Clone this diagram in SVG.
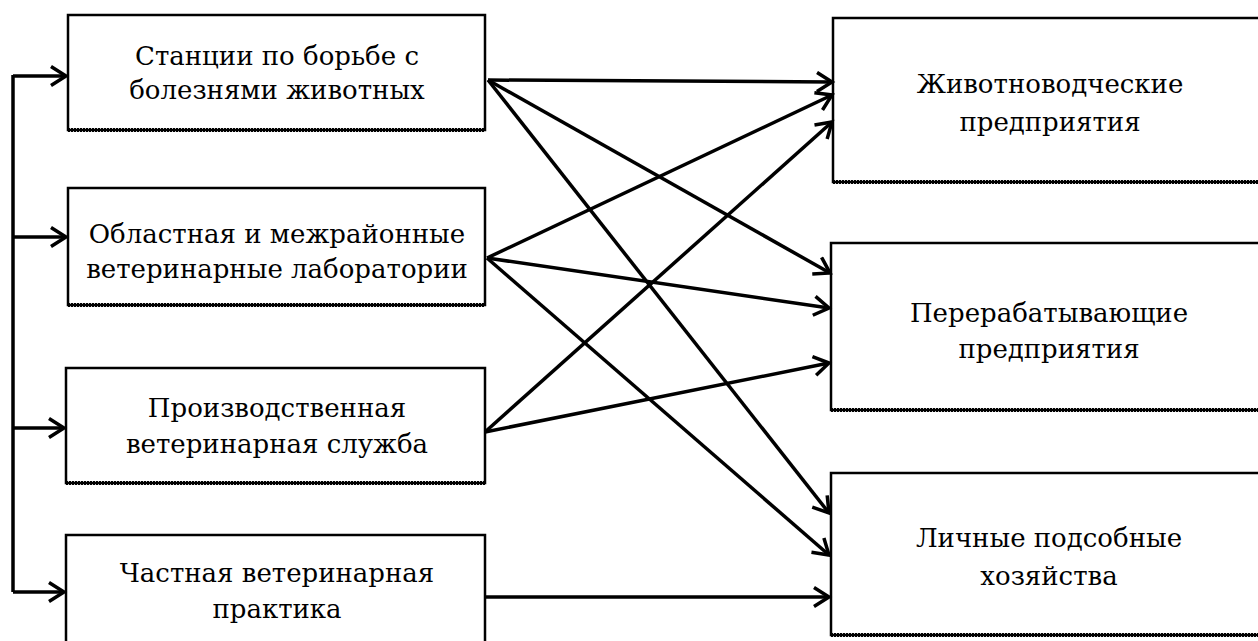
<svg xmlns="http://www.w3.org/2000/svg" width="1258" height="641" viewBox="0 0 1258 641">
<style>
.box{fill:#fff;stroke:#000;stroke-width:2.5}
.shadow{stroke:#000;stroke-width:4;stroke-dasharray:2 1}
.t{font-family:'DejaVu Serif',serif;font-size:26px;fill:#000;text-anchor:middle}
.c{fill:none;stroke:#000;stroke-width:3.5}
</style>
<defs>
<marker id="ah" markerUnits="userSpaceOnUse" markerWidth="26" markerHeight="26" refX="17" refY="11" orient="auto" viewBox="0 0 26 26">
<path d="M2,1.5 L17,11 L2,20.5" fill="none" stroke="#000" stroke-width="3.5"/>
</marker>
</defs>
<rect width="1258" height="641" fill="#fff"/>
<g id="n1"><rect class="box" x="68" y="15" width="417" height="115"/><line class="shadow" x1="68" y1="130" x2="485" y2="130"/>
<text class="t" x="277" y="65">Станции по борьбе с</text><text class="t" x="277" y="99">болезнями животных</text></g>
<g id="n2"><rect class="box" x="68" y="188" width="417" height="117"/><line class="shadow" x1="68" y1="305" x2="485" y2="305"/>
<text class="t" x="277" y="243">Областная и межрайонные</text><text class="t" x="277" y="278">ветеринарные лаборатории</text></g>
<g id="n3"><rect class="box" x="66" y="368" width="419" height="115"/><line class="shadow" x1="66" y1="483" x2="485" y2="483"/>
<text class="t" x="277" y="417">Производственная</text><text class="t" x="277" y="453">ветеринарная служба</text></g>
<g id="n4"><rect class="box" x="66" y="535" width="419" height="115"/>
<text class="t" x="277" y="582">Частная ветеринарная</text><text class="t" x="277" y="618">практика</text></g>
<g id="r1"><rect class="box" x="833" y="18" width="440" height="164"/><line class="shadow" x1="833" y1="182" x2="1258" y2="182"/>
<text class="t" x="1050" y="93">Животноводческие</text><text class="t" x="1050" y="131">предприятия</text></g>
<g id="r2"><rect class="box" x="831" y="243" width="440" height="167"/><line class="shadow" x1="831" y1="410" x2="1258" y2="410"/>
<text class="t" x="1049" y="322">Перерабатывающие</text><text class="t" x="1049" y="358">предприятия</text></g>
<g id="r3"><rect class="box" x="831" y="473" width="440" height="162"/><line class="shadow" x1="831" y1="635" x2="1258" y2="635"/>
<text class="t" x="1049" y="547">Личные подсобные</text><text class="t" x="1049" y="585">хозяйства</text></g>
<g id="connectors">
<path class="c" d="M13,75 V592"/>
<path class="c" d="M13,76 H66" marker-end="url(#ah)"/>
<path class="c" d="M13,237 H66" marker-end="url(#ah)"/>
<path class="c" d="M13,428 H64" marker-end="url(#ah)"/>
<path class="c" d="M13,592 H64" marker-end="url(#ah)"/>
<path class="c" d="M488,80 L832,82" marker-end="url(#ah)"/>
<path class="c" d="M488,80 L830,273" marker-end="url(#ah)"/>
<path class="c" d="M488,80 L829,513" marker-end="url(#ah)"/>
<path class="c" d="M487,258 L832,95" marker-end="url(#ah)"/>
<path class="c" d="M487,258 L829,308" marker-end="url(#ah)"/>
<path class="c" d="M487,258 L829,555" marker-end="url(#ah)"/>
<path class="c" d="M485,432 L832,122" marker-end="url(#ah)"/>
<path class="c" d="M485,432 L829,363" marker-end="url(#ah)"/>
<path class="c" d="M485,597 L829,597" marker-end="url(#ah)"/>
</g>
</svg>
